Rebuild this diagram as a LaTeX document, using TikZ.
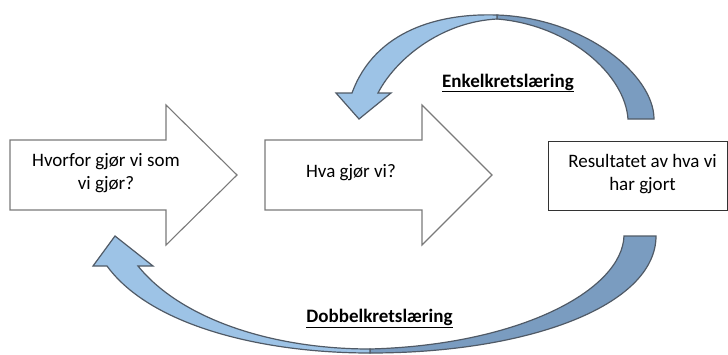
\documentclass[tikz,border=0pt]{standalone}
\usepackage{fontspec}
\setmainfont{Carlito}
\begin{document}
\definecolor{blockline}{HTML}{7A7A7A}
\definecolor{bandline}{HTML}{505A66}
\definecolor{bandfront}{HTML}{9DC3E6}
\definecolor{bandback}{HTML}{7A9CC0}
\begin{tikzpicture}[x=1pt,y=-1pt,
  blockarrow/.style={draw=blockline,line width=1.1pt,fill=white,line join=miter},
  bandfront/.style={draw=bandline,line width=1.2pt,fill=bandfront,line join=miter},
  bandback/.style={draw=bandline,line width=1.2pt,fill=bandback,line join=miter},
  txt/.style={font=\fontsize{19}{22.5}\selectfont,align=center,inner sep=0pt,anchor=base},
  lbl/.style={font=\fontsize{19}{22}\selectfont\bfseries,inner sep=0pt,anchor=base}]
\useasboundingbox (0,0) rectangle (728,354);

% block arrows
\draw[blockarrow] (10,140) -- (166,140) -- (166,105) -- (237,175) -- (166,245) -- (166,210) -- (10,210) -- cycle;
\draw[blockarrow] (265,140) -- (422,140) -- (422,105) -- (492,175) -- (422,245) -- (422,210) -- (265,210) -- cycle;
% result box
\draw[blockarrow,draw=black!80,line width=0.9pt] (548,141) rectangle (727,210);

% upper curved arrow: back half (tail side)
\draw[bandback] (497,15) .. controls (585,18) and (654,75) .. (654,119)
  -- (628,119) .. controls (625,75) and (570,25) .. (497,19) -- cycle;
% upper curved arrow: front half with head
\draw[bandfront] (497,15) .. controls (440,13) and (375,30) .. (352,93)
  -- (336,93) -- (359,119) -- (391,93) -- (378,93)
  .. controls (395,60) and (440,22) .. (497,19) -- cycle;

% lower curved arrow: back half (tail side)
\draw[bandback] (370,353) .. controls (530,353) and (656,305) .. (656,236)
  -- (624,236) .. controls (622,290) and (520,345) .. (370,349) -- cycle;
% lower curved arrow: front half with head
\draw[bandfront] (370,353) .. controls (260,353) and (150,325) .. (107,266)
  -- (93,266) -- (115,236) -- (153,266) -- (138,266)
  .. controls (180,318) and (270,349) .. (370,349) -- cycle;

% texts (base anchor sits on the last line's baseline)
\node[txt] (why) at (106,189) {Hvorfor gjør vi som\\vi gjør?};
\node[txt] (what) at (351,177) {Hva gjør vi?};
\node[txt] (result) at (642.5,190) {Resultatet av hva vi\\har gjort};
\node[lbl] (single) at (508,87) {\underline{Enkelkretslæring}};
\node[lbl] (double) at (379.5,322.5) {\underline{Dobbelkretslæring}};
\end{tikzpicture}
\end{document}
